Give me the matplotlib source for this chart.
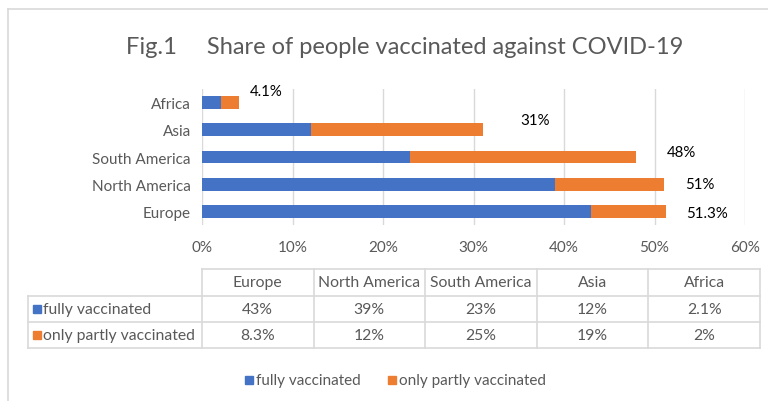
import matplotlib.pyplot as plt
from matplotlib.lines import Line2D
from matplotlib.patches import Rectangle
from matplotlib.ticker import FuncFormatter

regions = ["Europe", "North America", "South America", "Asia", "Africa"]
fully = [43, 39, 23, 12, 2.1]
partly = [8.3, 12, 25, 19, 2]
total_labels = ["51.3%", "51%", "48%", "31%", "4.1%"]
fully_labels = ["43%", "39%", "23%", "12%", "2.1%"]
partly_labels = ["8.3%", "12%", "25%", "19%", "2%"]

BLUE = "#4472C4"
ORANGE = "#ED7D31"
TEXT = "#595959"
GRID = "#D9D9D9"

plt.rcParams["font.family"] = ["Lato", "DejaVu Sans"]

W, H = 768, 402
fig = plt.figure(figsize=(W / 100, H / 100), dpi=100)


def px(x, y):
    return x / W, 1 - y / H


# chart frame (cut off at right/bottom like the screenshot)
fig.add_artist(Line2D([8 / W, 8 / W], [0, 1 - 10 / H], color=GRID, lw=1.2))
fig.add_artist(Line2D([8 / W, 1], [1 - 10 / H, 1 - 10 / H], color=GRID, lw=1.2))

fig.text(*px(405, 47), "Fig.1     Share of people vaccinated against COVID-19",
         ha="center", va="center", fontsize=17, color=TEXT)

# bar area
x0, y0 = px(202, 226)
x1, y1 = px(745, 90)
ax = fig.add_axes([x0, y0, x1 - x0, y1 - y0])
ypos = list(range(len(regions)))
ax.barh(ypos, fully, height=0.47, color=BLUE)
ax.barh(ypos, partly, left=fully, height=0.47, color=ORANGE)

# total labels (placed the way Excel left them)
lab_dx = [4.5, 4.0, 5.0, 5.8, 3.0]
lab_dy = [-0.07, 0.0, 0.18, 0.37, 0.42]
for i, t in enumerate(total_labels):
    ax.text(fully[i] + partly[i] + lab_dx[i], i + lab_dy[i], t,
            ha="center", va="center", fontsize=10.8, color="#000000")

ax.set_xlim(0, 60)
ax.set_ylim(-0.5, len(regions) - 0.5)
ax.set_xticks(range(0, 61, 10))
ax.xaxis.set_major_formatter(FuncFormatter(lambda v, p: f"{v:.0f}%"))
ax.set_yticks(ypos)
ax.set_yticklabels(regions)
ax.tick_params(axis="both", length=0, labelsize=11, colors=TEXT)
ax.tick_params(axis="x", pad=11)
ax.tick_params(axis="y", pad=8)
ax.grid(axis="x", color=GRID, lw=1)
ax.set_axisbelow(True)
for s in ax.spines.values():
    s.set_visible(False)

# data table under the chart
col_edges = [202 + i * (760 - 202) / 5 for i in range(6)]
row_edges = [270, 297, 323, 349]
left_edge = 28

def hline(xa, xb, y):
    fig.add_artist(Line2D([xa / W, xb / W], [1 - y / H, 1 - y / H], color=GRID, lw=1.2))

def vline(x, ya, yb):
    fig.add_artist(Line2D([x / W, x / W], [1 - ya / H, 1 - yb / H], color=GRID, lw=1.2))

hline(col_edges[0], col_edges[-1], row_edges[0])
for y in row_edges[1:]:
    hline(left_edge, col_edges[-1], y)
vline(left_edge, row_edges[1], row_edges[-1])
for x in col_edges:
    vline(x, row_edges[0], row_edges[-1])

for j, name in enumerate(regions):
    cx = (col_edges[j] + col_edges[j + 1]) / 2
    for r, txt in enumerate([name, fully_labels[j], partly_labels[j]]):
        cy = (row_edges[r] + row_edges[r + 1]) / 2
        fig.text(*px(cx, cy), txt, ha="center", va="center", fontsize=11.3, color=TEXT)

for r, (lab, col) in enumerate([("fully vaccinated", BLUE), ("only partly vaccinated", ORANGE)]):
    cy = (row_edges[r + 1] + row_edges[r + 2]) / 2
    fig.add_artist(Rectangle(px(33, cy + 4), 8 / W, 8 / H, color=col))
    fig.text(*px(43, cy), lab, ha="left", va="center", fontsize=11.3, color=TEXT)

# legend
for lab, col, sx in [("fully vaccinated", BLUE, 245), ("only partly vaccinated", ORANGE, 388)]:
    fig.add_artist(Rectangle(px(sx, 385), 8 / W, 8 / H, color=col))
    fig.text(*px(sx + 11, 381), lab, ha="left", va="center", fontsize=11, color=TEXT)

fig.savefig("out.png", dpi=100)
